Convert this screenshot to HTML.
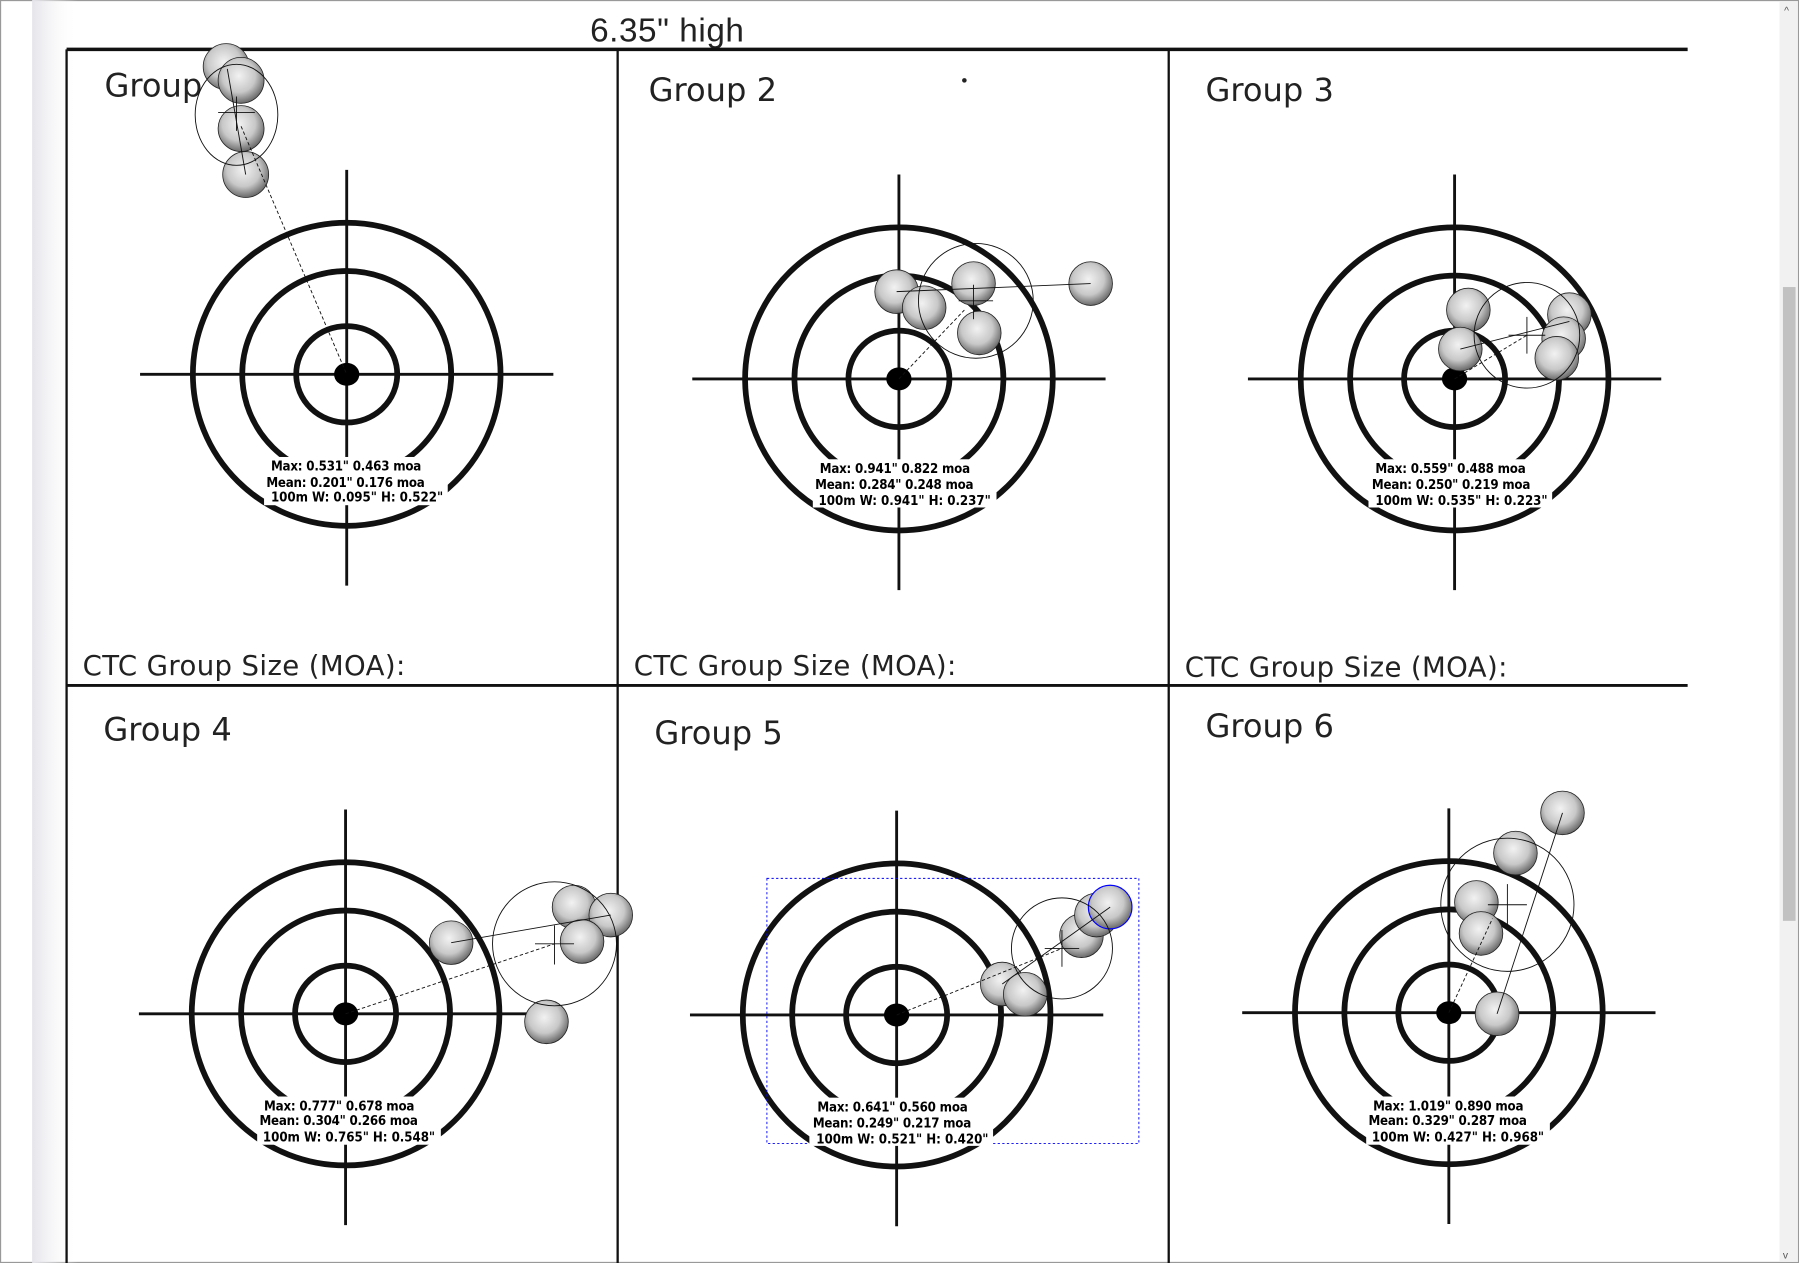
<!DOCTYPE html>
<html><head><meta charset="utf-8"><style>
html,body{margin:0;padding:0;background:#fff;overflow:hidden}
svg{display:block}
.t{font-family:"DejaVu Sans Condensed","Liberation Sans",sans-serif;font-weight:bold;font-size:11.5px;fill:#000}
.g{font-family:"DejaVu Sans","Liberation Sans",sans-serif;font-size:28px;fill:#222}
.c{font-family:"DejaVu Sans","Liberation Sans",sans-serif;font-size:24px;fill:#222}
</style></head><body>
<svg width="1799" height="1263" viewBox="0 0 1567 1100" preserveAspectRatio="none" xmlns="http://www.w3.org/2000/svg">
<defs>
<radialGradient id="h" cx="45%" cy="40%" r="60%">
<stop offset="0" stop-color="#f2f2f2"/><stop offset="0.6" stop-color="#c8c8c8"/><stop offset="1" stop-color="#6a6a6a"/>
</radialGradient>
<linearGradient id="sh" x1="0" x2="1"><stop offset="0" stop-color="#e4e4ea"/><stop offset="1" stop-color="#fff" stop-opacity="0"/></linearGradient>
<g id="tg">
<ellipse cx="0" cy="0" rx="134" ry="132" fill="none" stroke="#111" stroke-width="5"/>
<ellipse cx="0" cy="0" rx="91" ry="90" fill="none" stroke="#111" stroke-width="5"/>
<ellipse cx="0" cy="0" rx="44" ry="42" fill="none" stroke="#111" stroke-width="5"/>
<line x1="-180" y1="0" x2="180" y2="0" stroke="#111" stroke-width="2.5"/>
<line x1="0" y1="-178" x2="0" y2="184" stroke="#111" stroke-width="2.5"/>
<ellipse cx="0" cy="0" rx="11" ry="10" fill="#000"/>
</g>
</defs>
<rect x="0" y="0" width="1567" height="1100" fill="#fff" stroke="#999" stroke-width="2"/>
<rect x="28" y="0" width="40" height="1100" fill="url(#sh)"/>
<rect x="1550" y="1" width="16" height="1098" fill="#f1f1f1"/>
<rect x="1553" y="250" width="11" height="552" fill="#c1c1c1"/>
<text x="1554" y="12" font-size="9" fill="#555" font-family="Liberation Sans">^</text>
<text x="1553" y="1096" font-size="9" fill="#555" font-family="Liberation Sans">v</text>

<text x="514" y="36" font-family="Liberation Sans,sans-serif" font-size="29" fill="#222" textLength="134">6.35" high</text>
<line x1="58" y1="43" x2="1470" y2="43" stroke="#111" stroke-width="3"/>
<line x1="58" y1="43" x2="58" y2="1100" stroke="#111" stroke-width="2"/>
<line x1="538" y1="43" x2="538" y2="1100" stroke="#111" stroke-width="2"/>
<line x1="1018" y1="43" x2="1018" y2="1100" stroke="#111" stroke-width="2"/>
<line x1="58" y1="597" x2="1470" y2="597" stroke="#111" stroke-width="2.5"/>

<text class="g" x="91" y="84">Group</text>
<text class="g" x="565" y="88">Group 2</text>
<text class="g" x="1050" y="88">Group 3</text>
<text class="g" x="90" y="645">Group 4</text>
<text class="g" x="570" y="648">Group 5</text>
<text class="g" x="1050" y="642">Group 6</text>
<text class="c" x="72" y="588" textLength="281">CTC Group Size (MOA):</text>
<text class="c" x="552" y="588" textLength="281">CTC Group Size (MOA):</text>
<text class="c" x="1032" y="589" textLength="281">CTC Group Size (MOA):</text>

<use href="#tg" x="302" y="326"/>
<use href="#tg" x="783" y="330"/>
<use href="#tg" x="1267" y="330"/>
<use href="#tg" x="301" y="883"/>
<use href="#tg" x="781" y="884"/>
<use href="#tg" x="1262" y="882"/>

<g fill="url(#h)" stroke="#222" stroke-width="0.7">
<circle cx="197" cy="58" r="20"/><circle cx="210" cy="70" r="20"/><circle cx="210" cy="112" r="20"/><circle cx="214" cy="152" r="20"/>
<circle cx="781" cy="254" r="19"/><circle cx="805" cy="268" r="19"/><circle cx="848" cy="247" r="19"/><circle cx="853" cy="290" r="19"/><circle cx="950" cy="247" r="19"/>
<circle cx="1279" cy="270" r="19"/><circle cx="1272" cy="304" r="19"/><circle cx="1367" cy="274" r="19"/><circle cx="1362" cy="295" r="19"/><circle cx="1356" cy="312" r="19"/>
<circle cx="393" cy="821" r="19"/><circle cx="500" cy="790" r="19"/><circle cx="532" cy="797" r="19"/><circle cx="507" cy="820" r="19"/><circle cx="476" cy="890" r="19"/>
<circle cx="873" cy="857" r="19"/><circle cx="893" cy="866" r="19"/><circle cx="942" cy="815" r="19"/><circle cx="955" cy="797" r="19"/><circle cx="967" cy="790" r="19" stroke="#00f" stroke-width="1"/>
<circle cx="1361" cy="708" r="19"/><circle cx="1320" cy="743" r="19"/><circle cx="1286" cy="786" r="19"/><circle cx="1290" cy="813" r="19"/><circle cx="1304" cy="883" r="19"/>
</g>

<g fill="none" stroke="#111" stroke-width="0.8">
<ellipse cx="206" cy="100" rx="36" ry="44"/>
<line x1="190" y1="98" x2="222" y2="98"/><line x1="206" y1="84" x2="206" y2="114"/>
<line x1="198" y1="60" x2="214" y2="152"/>
<line x1="210" y1="110" x2="302" y2="326" stroke-dasharray="3,2"/>
<ellipse cx="302" cy="326" rx="92" ry="92" stroke-width="0.6"/>

<circle cx="850" cy="262" r="50"/>
<line x1="781" y1="254" x2="950" y2="247"/>
<line x1="835" y1="262" x2="865" y2="262"/><line x1="848" y1="248" x2="848" y2="278"/>
<line x1="783" y1="330" x2="840" y2="270" stroke-dasharray="3,2"/>

<circle cx="1330" cy="292" r="46"/>
<line x1="1272" y1="304" x2="1367" y2="280"/>
<line x1="1314" y1="292" x2="1346" y2="292"/><line x1="1330" y1="276" x2="1330" y2="308"/>
<line x1="1267" y1="330" x2="1330" y2="292" stroke-dasharray="3,2"/>

<circle cx="483" cy="822" r="54"/>
<line x1="393" y1="821" x2="532" y2="797"/>
<line x1="466" y1="822" x2="500" y2="822"/><line x1="483" y1="806" x2="483" y2="840"/>
<line x1="301" y1="883" x2="483" y2="822" stroke-dasharray="3,2"/>

<circle cx="925" cy="826" r="44"/>
<line x1="873" y1="857" x2="967" y2="790"/>
<line x1="910" y1="826" x2="940" y2="826"/><line x1="925" y1="810" x2="925" y2="842"/>
<line x1="781" y1="884" x2="925" y2="826" stroke-dasharray="3,2"/>
<rect x="668" y="765" width="324" height="231" stroke="#00f" stroke-dasharray="2,2"/>

<circle cx="1313" cy="788" r="58"/>
<line x1="1361" y1="708" x2="1304" y2="883"/>
<line x1="1296" y1="788" x2="1330" y2="788"/><line x1="1313" y1="770" x2="1313" y2="806"/>
<line x1="1262" y1="882" x2="1300" y2="800" stroke-dasharray="3,2"/>
</g>

<g>
<rect x="230" y="398" width="160" height="42" fill="#fff"/>
<text class="t" x="236" y="410" textLength="131">Max: 0.531" 0.463 moa</text>
<text class="t" x="232" y="424" textLength="138">Mean: 0.201" 0.176 moa</text>
<text class="t" x="236" y="437" textLength="150">100m  W: 0.095" H: 0.522"</text>

<rect x="708" y="400" width="160" height="42" fill="#fff"/>
<text class="t" x="714" y="412" textLength="131">Max: 0.941" 0.822 moa</text>
<text class="t" x="710" y="426" textLength="138">Mean: 0.284" 0.248 moa</text>
<text class="t" x="713" y="440" textLength="150">100m  W: 0.941" H: 0.237"</text>

<rect x="1192" y="400" width="160" height="42" fill="#fff"/>
<text class="t" x="1198" y="412" textLength="131">Max: 0.559" 0.488 moa</text>
<text class="t" x="1195" y="426" textLength="138">Mean: 0.250" 0.219 moa</text>
<text class="t" x="1198" y="440" textLength="150">100m  W: 0.535" H: 0.223"</text>

<rect x="224" y="955" width="160" height="42" fill="#fff"/>
<text class="t" x="230" y="967" textLength="131">Max: 0.777" 0.678 moa</text>
<text class="t" x="226" y="980" textLength="138">Mean: 0.304" 0.266 moa</text>
<text class="t" x="229" y="994" textLength="150">100m  W: 0.765" H: 0.548"</text>

<rect x="705" y="956" width="160" height="42" fill="#fff"/>
<text class="t" x="712" y="968" textLength="131">Max: 0.641" 0.560 moa</text>
<text class="t" x="708" y="982" textLength="138">Mean: 0.249" 0.217 moa</text>
<text class="t" x="711" y="996" textLength="150">100m  W: 0.521" H: 0.420"</text>

<rect x="1190" y="955" width="160" height="42" fill="#fff"/>
<text class="t" x="1196" y="967" textLength="131">Max: 1.019" 0.890 moa</text>
<text class="t" x="1192" y="980" textLength="138">Mean: 0.329" 0.287 moa</text>
<text class="t" x="1195" y="994" textLength="150">100m  W: 0.427" H: 0.968"</text>
</g>
<circle cx="840" cy="70" r="2" fill="#222"/>
</svg>
</body></html>
